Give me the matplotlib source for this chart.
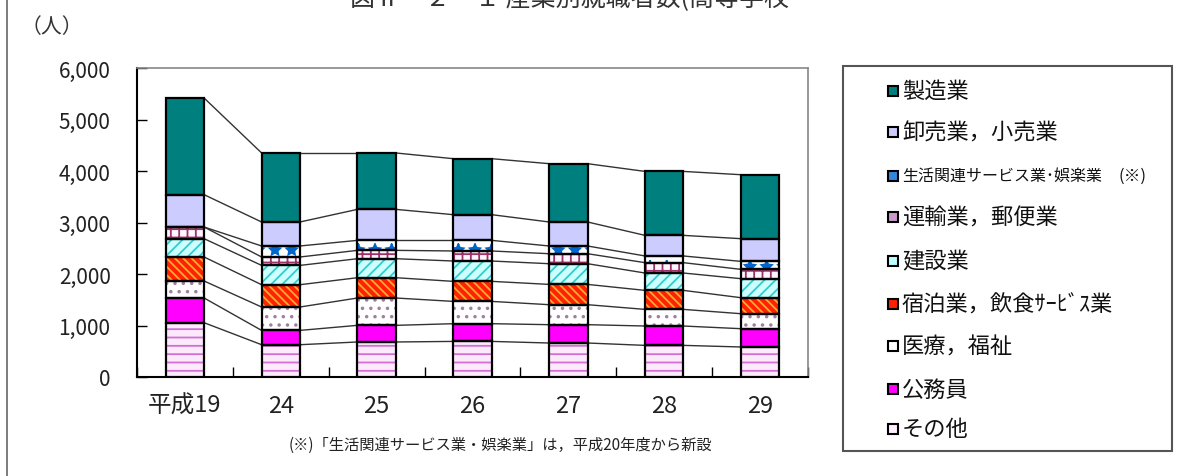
import numpy as np
import matplotlib.pyplot as plt
from matplotlib.patches import Rectangle

plt.rcParams['font.family'] = ['Noto Sans CJK JP', 'DejaVu Sans']
plt.rcParams['hatch.linewidth'] = 1.3

# 年度
years = ['平成19', '24', '25', '26', '27', '28', '29']

# 産業別就職者数 (人)  下から積み上げ順
sonota = [1054, 627, 680, 691, 660, 614, 583]
koumuin = [480, 278, 323, 344, 356, 376, 355]
iryou = [330, 454, 531, 433, 388, 323, 291]
shukuhaku = [466, 433, 394, 389, 394, 369, 311]
kensetsu = [356, 375, 369, 395, 402, 337, 369]
unyu = [226, 163, 162, 195, 194, 201, 181]
seikatsu = [0, 214, 194, 206, 150, 130, 155]
oroshi = [628, 466, 602, 499, 466, 400, 441]
seizou = [1877, 1340, 1095, 1087, 1132, 1242, 1242]

series = [sonota, koumuin, iryou, shukuhaku, kensetsu, unyu, seikatsu, oroshi, seizou]
labels = ['その他', '公務員', '医療，福祉', '宿泊業，飲食ｻｰﾋﾞｽ業', '建設業',
          '運輸業，郵便業', '生活関連サービス業･娯楽業', '卸売業，小売業', '製造業']
# (塗り, 模様の色, 模様)
styles = [('#FCEAFC', '#D070D0', '--'),
          ('#FF00FF', None, None),
          ('#FFFFFF', '#A080A0', '..'),
          ('#FF2200', '#FFAA33', '\\\\\\\\'),
          ('#CCFFFF', '#33CCCC', '///'),
          ('#FFF4FF', '#993366', '++'),
          ('#FFFFFF', '#0066CC', '*'),
          ('#CCCCFF', None, None),
          ('#007F7F', None, None)]
legend_colors = ['#FFEEFF', '#FF00FF', '#FFFFFF', '#FF2200', '#BBFFFF',
                 '#CC99CC', '#3388DD', '#CCCCFF', '#007F7F']

W, H = 1186, 477
fig = plt.figure(figsize=(W / 100, H / 100), dpi=100)
ax = fig.add_axes([137 / W, 1 - 378 / H, (808 - 137) / W, (378 - 69) / H])

x = np.arange(len(years))
width = 0.4
bottom = np.zeros(len(years))
for vals, (face, hcol, hatch) in zip(series, styles):
    vals = np.array(vals, dtype=float)
    if hatch:
        ax.bar(x, vals, width, bottom=bottom, color=face, edgecolor=hcol,
               hatch=hatch, linewidth=0, zorder=3)
    else:
        ax.bar(x, vals, width, bottom=bottom, color=face, linewidth=0, zorder=3)
    ax.bar(x, vals, width, bottom=bottom, fill=False, edgecolor='black',
           linewidth=1.6, zorder=4)
    top = bottom + vals
    # 区分線
    for i in range(len(years) - 1):
        ax.plot([x[i] + width / 2, x[i + 1] - width / 2], [top[i], top[i + 1]],
                color='#333333', linewidth=1, zorder=2)
    bottom = top

ax.set_xlim(-0.5, len(years) - 0.5)
ax.set_ylim(0, 6000)
ax.set_yticks(np.arange(0, 6001, 1000))
ax.set_yticklabels([f'{v:,}' for v in range(0, 6001, 1000)])
ax.tick_params(axis='y', direction='in', length=7, width=1, pad=19,
               labelsize=15, labelcolor='#222222')
ax.set_xticks(np.arange(-0.5, len(years), 1.0))
ax.set_xticklabels([])
ax.tick_params(axis='x', which='major', direction='in', length=7, width=1)
ax.set_xticks(x, minor=True)
ax.set_xticklabels(years, minor=True)
ax.tick_params(axis='x', which='minor', length=0, pad=12, labelsize=17,
               labelcolor='#222222')
for s in ['top', 'right']:
    ax.spines[s].set_color('#888888')
    ax.spines[s].set_linewidth(1.2)
for s in ['left', 'bottom']:
    ax.spines[s].set_color('black')
    ax.spines[s].set_linewidth(1.5)

# 凡例 (手描き)
lax = fig.add_axes([0, 0, 1, 1], zorder=5)
lax.set_xlim(0, W)
lax.set_ylim(H, 0)
lax.axis('off')
lax.add_patch(Rectangle((843, 67), 329, 385, fill=False, edgecolor='#555555',
                        linewidth=1.5))
ys = [91.7, 133.3, 176.7, 218.3, 261.7, 305, 346.7, 390, 430]
for yy, lab, col in zip(ys, labels[::-1], legend_colors[::-1]):
    lax.add_patch(Rectangle((888, yy - 5), 10, 10, facecolor=col,
                            edgecolor='black', linewidth=1.5))
    fs = 11.5 if lab.startswith('生活') else 16
    lax.text(902, yy, lab, fontsize=fs, va='center', ha='left', color='#111111')
lax.text(1118, 176.7, '(※)', fontsize=12, va='center', ha='left', color='#111111')

# 外枠・見出し
lax.plot([7, 7], [0, H], color='#666666', linewidth=1.2)
lax.text(350, 6, '図Ⅱ－２－１ 産業別就職者数(高等学校', fontsize=18, ha='left',
         va='baseline', color='#333333')
lax.text(52, 27, '（人）', fontsize=15, ha='center', va='center', color='#333333')
lax.text(500, 445, '(※)「生活関連サービス業・娯楽業」は，平成20年度から新設',
         fontsize=11, ha='center', va='center', color='#222222')

fig.savefig('out.png', dpi=100)
